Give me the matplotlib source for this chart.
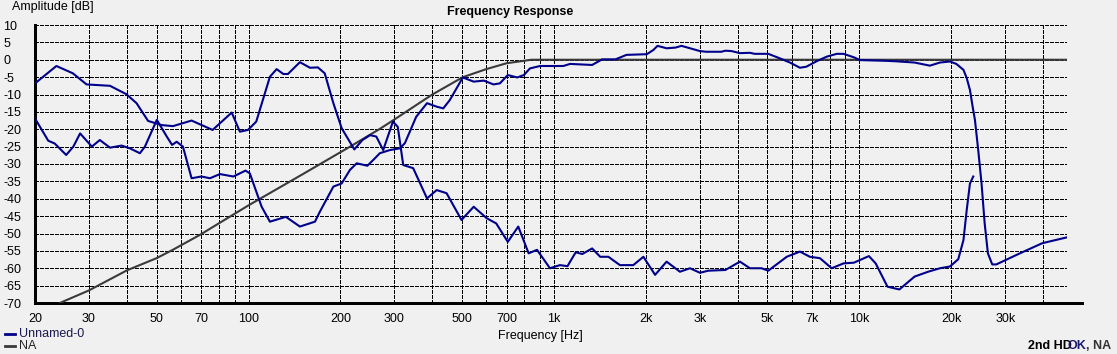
import matplotlib
matplotlib.use("Agg")
import matplotlib.pyplot as plt

# fundamental (curve that ends flat at 0 dB, then rolls off above 20k)
fund_f = [20, 22.1, 23.2, 25.3, 26.7, 28.1, 30.7, 32.6, 35.2, 38.4, 40.9, 44.1, 45.8,
          50.1, 54.0, 56.2, 58.2, 61.0, 65.1, 70.1, 74.8, 80.6, 89.2, 97.8, 101,
          110.4, 117.5, 132.5, 147.3, 165, 171.3, 189.6, 201.8, 214.8, 226, 245,
          259, 269, 290, 313, 325, 354, 384, 413, 434, 456, 503, 546, 589, 634,
          665, 706, 758, 797, 834, 900, 1072, 1129, 1333, 1437, 1588, 1727, 2014,
          2114, 2183, 2337, 2500, 2614, 3004, 3150, 3530, 3640, 3810, 4062, 4380,
          4540, 5030, 5490, 5920, 6385, 6700, 7250, 7820, 8430, 8870, 9590, 10040,
          12110, 12900, 15150, 17000, 18345, 19780, 20760, 21900, 22450, 23000,
          23470, 23880, 24480, 25100, 25700, 26330, 27210, 28050, 33530, 39650, 47800]
fund_db = [-16.9, -23.3, -24.1, -27.4, -25.0, -21.2, -25.0, -23.1, -25.3, -24.7, -25.5,
           -26.9, -25.0, -17.3, -22.1, -24.5, -23.6, -25.0, -34.1, -33.6, -34.1, -32.9,
           -33.6, -31.9, -32.7, -42.3, -46.6, -45.2, -48.0, -46.6, -43.7, -36.5, -35.6,
           -31.7, -29.8, -30.5, -28.4, -26.9, -26.0, -25.5, -24.0, -16.4, -12.5, -13.5,
           -14.0, -11.6, -5.1, -6.3, -6.0, -7.1, -6.8, -4.4, -5.1, -4.4, -2.5, -1.8,
           -1.8, -1.2, -1.5, 0.1, 0.1, 1.4, 1.6, 2.8, 4.0, 3.3, 3.5, 4.0, 2.5, 2.3,
           2.3, 2.6, 2.5, 1.9, 2.0, 1.7, 1.7, 0.4, -0.8, -2.3, -2.0, -0.4, 0.9, 1.7,
           1.7, 0.7, -0.1, -0.3, -0.4, -0.8, -1.7, -0.8, -0.5, -1.2, -2.9, -5.3, -8.7,
           -13.5, -17.3, -26.0, -35.6, -47.1, -55.7, -58.9, -58.9, -55.7, -52.8, -51.1]

# second curve (starts high at 20 Hz, ends with the peak near 23.5k)
hd_f = [20, 23.5, 26.6, 29.5, 35.2, 39.8, 43.0, 46.9, 51.9, 56.6, 65.1, 76.3, 88.1,
        93.7, 99.6, 106, 117.5, 123.6, 130, 134.6, 147.3, 158.9, 168.7, 177.6, 189.6,
        201.8, 222, 236, 250, 262, 276, 297, 308, 321, 346, 384, 413, 445, 498, 546,
        602, 647, 706, 764, 826, 880, 970, 1046, 1107, 1178, 1238, 1333, 1417, 1507,
        1644, 1818, 1962, 2143, 2337, 2584, 2787, 3004, 3200, 3640, 4062, 4380, 4780,
        5030, 5780, 6385, 6880, 7424, 8110, 8870, 9590, 10740, 11300, 12350, 13510,
        15150, 16780, 18345, 19780, 21060, 21900, 22450, 23000, 23580]
hd_db = [-6.8, -1.8, -3.9, -7.1, -7.5, -9.9, -12.5, -17.6, -18.8, -19.1, -17.5, -20.2,
         -15.2, -20.7, -20.2, -17.8, -4.9, -2.7, -4.1, -4.1, -0.7, -2.3, -2.2, -3.9,
         -12.5, -19.7, -25.8, -23.1, -21.7, -22.1, -26.0, -17.8, -19.3, -30.3, -31.2,
         -39.9, -37.5, -38.4, -46.1, -42.3, -45.6, -47.1, -52.4, -48.0, -55.7, -54.7,
         -60.0, -59.1, -59.4, -55.4, -55.9, -54.3, -56.7, -56.7, -59.1, -59.1, -56.7,
         -61.9, -58.1, -61.0, -60.0, -61.3, -60.7, -60.5, -58.1, -60.0, -60.0, -60.7,
         -56.7, -55.2, -56.7, -57.1, -60.0, -58.6, -58.4, -56.5, -58.6, -65.3, -66.1,
         -62.4, -61.0, -60.0, -59.5, -57.4, -51.9, -43.2, -35.6, -33.6]

# target curve "NA"
na_f = [24.1, 30, 40, 50, 56.5, 69.3, 100, 150, 215, 269, 299, 398, 502, 600, 700, 843, 47800]
na_db = [-70, -66.4, -60.6, -57.1, -54.7, -50.4, -41.9, -33.0, -25.0, -19.9, -17.3,
         -10.1, -5.05, -2.7, -1.0, 0, 0]

grid_f = [30, 40, 50, 60, 70, 80, 90, 100, 200, 300, 400, 500, 600, 700, 800, 900,
          1000, 2000, 3000, 4000, 5000, 6000, 7000, 8000, 9000, 10000, 20000, 30000, 40000]
xlabels = {20: "20", 30: "30", 50: "50", 70: "70", 100: "100", 200: "200", 300: "300",
           500: "500", 700: "700", 1000: "1k", 2000: "2k", 3000: "3k", 5000: "5k",
           7000: "7k", 10000: "10k", 20000: "20k", 30000: "30k"}
yticks = list(range(-70, 15, 5))

BG = "#F0F0F0"
NAVY = "#00008C"
GRAY = "#3A3A3A"
W, H = 1117, 354

plt.rcParams["font.family"] = ["Liberation Sans", "DejaVu Sans"]
plt.rcParams["lines.scale_dashes"] = False

fig = plt.figure(figsize=(W / 100, H / 100), dpi=100, facecolor=BG)
ax = fig.add_axes([35 / W, 1 - 303 / H, (1067 - 35) / W, (303 - 25) / H], facecolor=BG)
ax.set_xscale("log")
ax.set_xlim(20, 47800)
ax.set_ylim(-70, 10)

dash = (0, (2.2, 1.4))
for f in grid_f:
    ax.axvline(f, color="black", lw=0.72, ls=dash, antialiased=False, zorder=1)
for v in yticks:
    if v > -70:
        ax.axhline(v, color="black", lw=0.72, ls=dash, antialiased=False, zorder=1)

ax.plot(na_f, na_db, color=GRAY, lw=1.5, zorder=3)
ax.plot(fund_f, fund_db, color=NAVY, lw=1.5, zorder=4)
ax.plot(hd_f, hd_db, color=NAVY, lw=1.5, zorder=4)

ax.xaxis.set_minor_locator(matplotlib.ticker.NullLocator())
xt = sorted(xlabels)
ax.set_xticks(xt)
ax.set_xticklabels([xlabels[f] for f in xt])
ax.set_yticks(yticks)
ax.set_yticklabels([str(v) for v in yticks])
ax.tick_params(axis="both", length=0, labelsize=9)
ax.tick_params(axis="x", pad=7)
ax.tick_params(axis="y", pad=23)
for lab in ax.get_yticklabels():
    lab.set_horizontalalignment("left")

for s in ("top", "right"):
    ax.spines[s].set_visible(False)
for s in ("left", "bottom"):
    ax.spines[s].set_linewidth(1.8)
    ax.spines[s].set_antialiased(False)

# bottom axis line runs a little past the plotted range
fig.add_artist(plt.Line2D([1066 / W, 1082 / W], [1 - 303 / H] * 2, color="black",
                          lw=1.8, antialiased=False))

fig.text(510 / W, 1 - 12 / H, "Frequency Response", ha="center", va="center",
         fontsize=9, fontweight="bold")
fig.text(12 / W, 1 - 7 / H, "Amplitude [dB]", ha="left", va="center", fontsize=9)
fig.text(540 / W, 1 - 336 / H, "Frequency [Hz]", ha="center", va="center", fontsize=9)

# legend at lower left
fig.add_artist(plt.Line2D([5 / W, 15 / W], [1 - 334 / H] * 2, color=NAVY, lw=2))
fig.add_artist(plt.Line2D([5 / W, 15 / W], [1 - 346 / H] * 2, color=GRAY, lw=2))
fig.text(19 / W, 1 - 334 / H, "Unnamed-0", ha="left", va="center", fontsize=9, color="#1a1a50")
fig.text(19 / W, 1 - 346 / H, "NA", ha="left", va="center", fontsize=9, color="#222222")

fig.text(1072 / W, 1 - 346 / H, "2nd HD", ha="right", va="center", fontsize=9,
         fontweight="bold", color="black")
fig.text(1067 / W, 1 - 346 / H, "OK", ha="left", va="center", fontsize=9,
         fontweight="bold", color="#1a1a70")
fig.text(1111 / W, 1 - 346 / H, ", NA", ha="right", va="center", fontsize=9,
         fontweight="bold", color="#333333")

fig.savefig("out.png", dpi=100, facecolor=BG)
